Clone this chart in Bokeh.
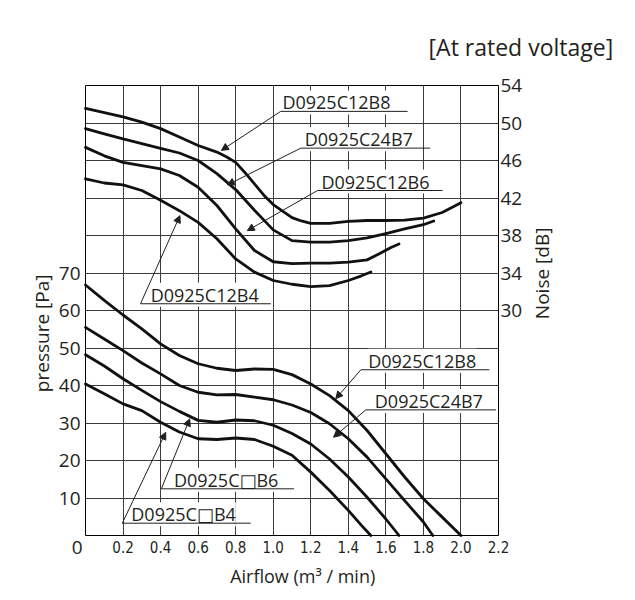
from bokeh.plotting import figure
from bokeh.models import (Range1d, LinearAxis, FixedTicker, Label, Arrow,
                          NormalHead, NumeralTickFormatter)
from bokeh.embed import file_html
from bokeh.resources import INLINE

FONT = "Open Sans"
FONT_BOX = "Open Sans, DejaVu Sans"
NARROW = "DejaVu Sans Condensed, Liberation Sans Narrow, Roboto"

# ---------------- data ----------------
x_ticks = [0.2, 0.4, 0.6, 0.8, 1.0, 1.2, 1.4, 1.6, 1.8, 2.0, 2.2]
p_ticks = [10, 20, 30, 40, 50, 60, 70]
n_ticks = [30, 34, 38, 42, 46, 50, 54]

# Noise curves [dB] (right axis)
noise_b8_x = [0.0, 0.1, 0.2, 0.3, 0.4, 0.5, 0.6, 0.7, 0.75, 0.8, 0.85, 0.9, 0.95, 1.0, 1.05, 1.1, 1.15, 1.2, 1.3, 1.4, 1.5, 1.6, 1.7, 1.8, 1.9, 2.0]
noise_b8_y = [51.55, 51.1, 50.65, 50.1, 49.4, 48.5, 47.6, 46.9, 46.4, 45.8, 44.7, 43.5, 42.3, 41.3, 40.6, 39.9, 39.55, 39.3, 39.3, 39.5, 39.6, 39.6, 39.65, 39.85, 40.45, 41.5]

noise_b7_x = [0.0, 0.1, 0.2, 0.3, 0.4, 0.5, 0.6, 0.7, 0.8, 0.9, 1.0, 1.1, 1.2, 1.3, 1.4, 1.5, 1.6, 1.7, 1.8, 1.855]
noise_b7_y = [49.4, 48.85, 48.3, 47.8, 47.3, 46.8, 46.0, 44.6, 42.9, 40.7, 38.6, 37.45, 37.3, 37.3, 37.45, 37.75, 38.2, 38.7, 39.15, 39.55]

noise_b6_x = [0.0, 0.1, 0.2, 0.3, 0.4, 0.5, 0.6, 0.7, 0.8, 0.9, 1.0, 1.1, 1.2, 1.3, 1.4, 1.5, 1.57, 1.63, 1.67]
noise_b6_y = [47.4, 46.5, 45.8, 45.45, 45.1, 44.4, 43.15, 41.2, 38.7, 36.4, 35.2, 35.0, 35.05, 35.05, 35.15, 35.4, 36.1, 36.75, 37.1]

noise_b4_x = [0.0, 0.1, 0.2, 0.3, 0.4, 0.5, 0.6, 0.7, 0.8, 0.9, 1.0, 1.1, 1.2, 1.3, 1.4, 1.47, 1.52]
noise_b4_y = [44.05, 43.6, 43.4, 42.8, 41.75, 40.65, 39.4, 37.65, 35.5, 34.1, 33.2, 32.8, 32.55, 32.65, 33.2, 33.7, 34.1]

# Pressure curves [Pa] (left axis)
pres_b8_x = [0.0, 0.1, 0.2, 0.3, 0.4, 0.5, 0.6, 0.7, 0.8, 0.9, 1.0, 1.1, 1.2, 1.3, 1.4, 1.5, 1.6, 1.7, 1.8, 1.9, 2.0]
pres_b8_y = [66.8, 62.7, 58.8, 55.1, 51.1, 48.0, 45.8, 44.6, 44.0, 44.4, 44.3, 42.9, 40.4, 37.3, 33.3, 28.0, 21.8, 15.6, 9.8, 4.9, 0.0]

pres_b7_x = [0.0, 0.1, 0.2, 0.3, 0.4, 0.5, 0.6, 0.7, 0.8, 0.9, 1.0, 1.1, 1.2, 1.3, 1.4, 1.5, 1.6, 1.7, 1.8, 1.85]
pres_b7_y = [55.5, 52.4, 49.3, 46.0, 43.1, 40.0, 38.2, 37.5, 37.6, 36.9, 36.2, 34.8, 32.8, 29.8, 25.8, 20.9, 15.1, 9.3, 3.6, 0.0]

pres_b6_x = [0.0, 0.1, 0.2, 0.3, 0.4, 0.5, 0.6, 0.7, 0.8, 0.9, 1.0, 1.1, 1.2, 1.3, 1.4, 1.5, 1.6, 1.67]
pres_b6_y = [48.2, 45.2, 41.8, 38.7, 35.7, 33.1, 30.7, 30.2, 30.8, 30.6, 29.4, 27.2, 24.4, 20.4, 15.6, 10.2, 4.4, 0.0]

pres_b4_x = [0.0, 0.1, 0.2, 0.3, 0.4, 0.5, 0.6, 0.7, 0.8, 0.9, 1.0, 1.1, 1.2, 1.3, 1.4, 1.47, 1.52]
pres_b4_y = [40.4, 37.8, 35.1, 33.3, 30.2, 27.6, 25.8, 25.6, 26.0, 25.6, 23.8, 21.4, 16.9, 12.0, 6.7, 2.7, 0.0]

# ---------------- figure ----------------
# The frame covers the whole canvas; the axes are fixed at the plot-box edges.
W, H = 625, 592
BOX_L, BOX_R, BOX_T, BOX_B = 85, 498, 85, 535          # plot box in canvas px
X0, X1, P0, P1, N0, N1 = 0.0, 2.2, 0.0, 120.0, 6.0, 54.0
kx = (X1 - X0) / (BOX_R - BOX_L)
kp = (P1 - P0) / (BOX_B - BOX_T)
kn = (N1 - N0) / (BOX_B - BOX_T)

p = figure(width=W, height=H, output_backend="svg", toolbar_location=None,
           x_range=Range1d(X0 - BOX_L * kx, X1 + (W - BOX_R) * kx),
           y_range=Range1d(P0 - (H - BOX_B) * kp, P1 + BOX_T * kp),
           min_border=0, min_border_left=0, min_border_right=0,
           min_border_top=0, min_border_bottom=0)
p.extra_y_ranges = {"noise": Range1d(N0 - (H - BOX_B) * kn, N1 + BOX_T * kn)}
p.outline_line_color = None
p.background_fill_color = "white"
p.border_fill_color = "white"

# grid
p.xgrid.ticker = FixedTicker(ticks=x_ticks[:-1])
p.ygrid.ticker = FixedTicker(ticks=list(range(10, 120, 10)))
for g, cb in ((p.xgrid, (P0, P1)), (p.ygrid, (X0, X1))):
    g.grid_line_color = "#3c3c3c"
    g.grid_line_width = 1
    g.cross_bounds = cb

# axes
xa = p.xaxis[0]
xa.ticker = FixedTicker(ticks=x_ticks)
xa.formatter = NumeralTickFormatter(format="0.0")
xa.major_label_text_font = NARROW
xa.major_label_text_font_size = "15px"
xa.major_label_standoff = 5
xa.fixed_location = P0
xa.bounds = (X0, X1)

ya = p.yaxis[0]
ya.ticker = FixedTicker(ticks=p_ticks)
ya.major_label_text_font = FONT
ya.major_label_text_font_size = "19px"
ya.major_label_standoff = 5
ya.fixed_location = X0
ya.bounds = (P0, P1)

ra = LinearAxis(y_range_name="noise", ticker=FixedTicker(ticks=n_ticks))
ra.major_label_text_font = FONT
ra.major_label_text_font_size = "19px"
ra.major_label_standoff = 2
ra.fixed_location = X1
ra.bounds = (N0, N1)
p.add_layout(ra, "right")

ta = LinearAxis(ticker=FixedTicker(ticks=[]))
ta.major_label_text_font_size = "0px"
ta.fixed_location = P1
ta.bounds = (X0, X1)
p.add_layout(ta, "above")

for ax in (xa, ya, ra, ta):
    ax.axis_line_color = "black"
    ax.axis_line_width = 1
    ax.major_tick_in = 0
    ax.major_tick_out = 0
    ax.minor_tick_line_color = None
    ax.major_label_text_color = "#231f20"

# curves
LW = 2.8
for xs, ys in [(noise_b8_x, noise_b8_y), (noise_b7_x, noise_b7_y),
               (noise_b6_x, noise_b6_y), (noise_b4_x, noise_b4_y)]:
    p.line(xs, ys, y_range_name="noise", line_color="#111111", line_width=LW,
           line_join="round", line_cap="round")
for xs, ys in [(pres_b8_x, pres_b8_y), (pres_b7_x, pres_b7_y),
               (pres_b6_x, pres_b6_y), (pres_b4_x, pres_b4_y)]:
    p.line(xs, ys, line_color="#111111", line_width=LW,
           line_join="round", line_cap="round")

# annotations: (text, text_x, underline_x0, underline_x1, underline_y, tip_x, tip_y)
notes = [
    ("D0925C12B8", 1.049, 1.040, 1.716, 113.1, 0.724, 102.7),
    ("D0925C24B7", 1.168, 1.147, 1.836, 103.3, 0.756, 93.5),
    ("D0925C12B6", 1.257, 1.236, 1.902, 92.0, 0.862, 81.3),
    ("D0925C12B4", 0.347, 0.293, 0.987, 61.8, 0.503, 85.3),
    ("D0925C12B8", 1.506, 1.467, 2.151, 44.2, 1.333, 36.5),
    ("D0925C24B7", 1.541, 1.493, 2.187, 33.5, 1.321, 26.2),
    ("D0925C\u25a1B6", 0.471, 0.404, 1.111, 12.45, 0.555, 31.1),
    ("D0925C\u25a1B4", 0.244, 0.196, 0.880, 3.28, 0.427, 27.5),
]
GAP = 9.0 * kp   # text centre sits ~9 px above its underline
for txt, tx, u0, u1, uy, ax_, ay_ in notes:
    p.add_layout(Label(x=tx, y=uy + GAP, text=txt, text_font=FONT_BOX,
                       text_font_size="18px",
                       text_baseline="middle", text_align="left",
                       text_color="#231f20", background_fill_color="white"))
    p.segment(x0=[u0], y0=[uy], x1=[u1], y1=[uy], line_color="#231f20",
              line_width=1, level="overlay")
    p.add_layout(Arrow(x_start=u0, y_start=uy, x_end=ax_, y_end=ay_,
                       line_color="#231f20", line_width=1,
                       end=NormalHead(size=7, fill_color="#231f20",
                                      line_color="#231f20", line_width=1)))

# free texts
p.add_layout(Label(x=2.811, y=130.2, text="[At rated voltage]", text_font=FONT,
                   text_font_size="23px", text_align="right", text_baseline="middle",
                   text_color="#231f20"))
p.add_layout(Label(x=-0.231, y=53.9, text="pressure [Pa]", text_font=FONT,
                   text_font_size="19px", text_align="center", text_baseline="middle",
                   angle=1.5707963, text_color="#231f20"))
p.add_layout(Label(x=2.432, y=69.9, text="Noise [dB]", text_font=FONT,
                   text_font_size="19px", text_align="center", text_baseline="middle",
                   angle=1.5707963, text_color="#231f20"))
p.add_layout(Label(x=1.157, y=-10.7, text="Airflow (m\u00b3 / min)", text_font=FONT,
                   text_font_size="18px", text_align="center", text_baseline="middle",
                   text_color="#231f20"))
p.add_layout(Label(x=-0.044, y=-3.2, text="0", text_font=FONT,
                   text_font_size="19px", text_align="center", text_baseline="middle",
                   text_color="#231f20"))

open("out.html", "w").write(file_html(p, INLINE))
